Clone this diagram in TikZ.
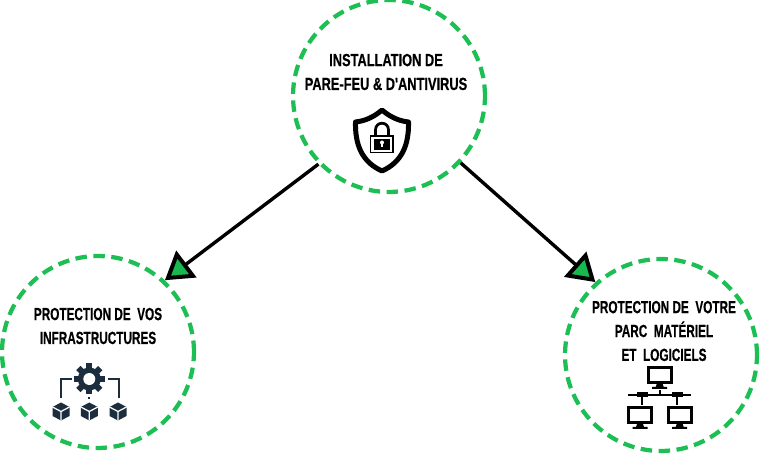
\documentclass[tikz,border=0pt]{standalone}
\usepackage{fontspec}
\usepackage{tikz}
\usetikzlibrary{arrows.meta}
\newfontfamily\labelfont[FakeStretch=0.67,FakeBold=0.5]{Liberation Sans}
\newfontfamily\toplabelfont[FakeStretch=0.73,FakeBold=0.5]{Liberation Sans}
\definecolor{dashgreen}{HTML}{1DBF55}
\definecolor{headgreen}{HTML}{17B84E}
\definecolor{iconnavy}{HTML}{1C2E3E}
\tikzset{
  bubble/.style={circle,draw=dashgreen,line width=0.085cm,dash pattern=on 0.23cm off 0.13cm,minimum size=3.84cm,inner sep=0pt},
  caption/.style={align=center,inner sep=0pt,font=\labelfont\bfseries\fontsize{10}{13.6}\selectfont},
  topcaption/.style={caption,font=\toplabelfont\bfseries\fontsize{10}{13.6}\selectfont},
  flow/.style={line width=0.068cm,-{Triangle[length=0.54cm,width=0.66cm,fill=headgreen,line width=0.08cm]}},
  cube/.pic={
    \fill[iconnavy] (0,-9) -- (8.5,-4.5) -- (8.5,4.5) -- (0,9) -- (-8.5,4.5) -- (-8.5,-4.5) -- cycle;
    \draw[white,line width=0.025cm] (-8.5,-4.5) -- (0,0) -- (8.5,-4.5) (0,0) -- (0,9);
  },
  monitor/.pic={
    \draw[black,line width=0.06cm] (-11.5,0) rectangle (11.5,15);
    \fill[black] (-3,16) -- (3,16) -- (4,19) -- (7.5,19) -- (7.5,21) -- (-7.5,21) -- (-7.5,19) -- (-4,19) -- cycle;
  }
}
\begin{document}
\begin{tikzpicture}[x=0.02cm,y=-0.02cm]
\useasboundingbox (0,0) rectangle (762,455);

%%%%%%%%%%%%%%%%%%Draw The Three Circles%%%%%%%%%%%%%%%
\node[bubble] (install) at (389,96) {};
\node[bubble] (infra) at (98,352) {};
\node[bubble] (parc) at (661,355) {};

%%%%%%%%%%%%%%%%%%Draw The Captions%%%%%%%%%%%%%%%%%%%%
\node[topcaption] (installtext) at (386,72) {INSTALLATION DE\\PARE-FEU \& D'ANTIVIRUS};
\node[caption] (infratext) at (98,326) {PROTECTION DE~~VOS\\INFRASTRUCTURES};
\node[caption] (parctext) at (664,331) {PROTECTION DE~~VOTRE\\PARC~~MATÉRIEL\\ET~~LOGICIELS};

%%%%%%%%%%%%%%%%%%Draw The Arrows%%%%%%%%%%%%%%%%%%%%%%
\draw[flow] (install.224) -- (infra.47);
\draw[flow] (install.317) -- (parc.132);

%%%%%%%%%%%%%%%%%%Draw The Shield%%%%%%%%%%%%%%%%%%%%%%
\draw[line width=0.1cm,line join=round] (382,110) .. controls (374,117) and (365,121) .. (355.5,122)
  .. controls (355,145) and (362,162) .. (382,171)
  .. controls (402,162) and (409,145) .. (408.5,122)
  .. controls (399,121) and (390,117) .. (382,110) -- cycle;
\draw[line width=0.055cm] (375.5,136) -- (375.5,130) .. controls (375.5,121) and (388.5,121) .. (388.5,130) -- (388.5,136);
\draw[line width=0.035cm] (370.5,136) rectangle (393,152.5);
\fill[black] (373.5,139) rectangle (390,150);
\fill[white] (382,142.5) circle[radius=2];
\fill[white] (381,143) rectangle (383,147);

%%%%%%%%%%%%%%%%%%Draw The Gear And Cubes%%%%%%%%%%%%%%
\foreach \ang in {0,45,...,315}
  \fill[iconnavy,rotate around={\ang:(89.3,379)}] (86.3,363.5) rectangle (92.3,372);
\fill[iconnavy] (89.3,379) circle[radius=11.5];
\fill[white] (89.3,379) circle[radius=6];
\draw[iconnavy,line width=0.04cm] (71.7,379) -- (60.7,379) -- (60.7,398);
\draw[iconnavy,line width=0.04cm] (108,379) -- (119,379) -- (119,398);
\draw[iconnavy,line width=0.04cm] (89.3,396.7) -- (89.3,399);
\foreach \xpos in {61,89.3,118}
  \pic at (\xpos,411.5) {cube};

%%%%%%%%%%%%%%%%%%Draw The Network%%%%%%%%%%%%%%%%%%%%%
\pic at (659.7,368) {monitor};
\pic at (640,408) {monitor};
\pic at (679.7,408) {monitor};
\draw[line width=0.035cm] (628,394.7) -- (690.7,394.7);
\draw[line width=0.035cm] (659.7,390) -- (659.7,394.7);
\draw[line width=0.035cm] (642.3,396) -- (642.3,405);
\draw[line width=0.035cm] (676.7,396) -- (676.7,405);
\fill[black] (637.3,392.2) rectangle (648.3,397.5);
\fill[black] (671.7,392.2) rectangle (682.7,397.5);
\end{tikzpicture}
\end{document}
